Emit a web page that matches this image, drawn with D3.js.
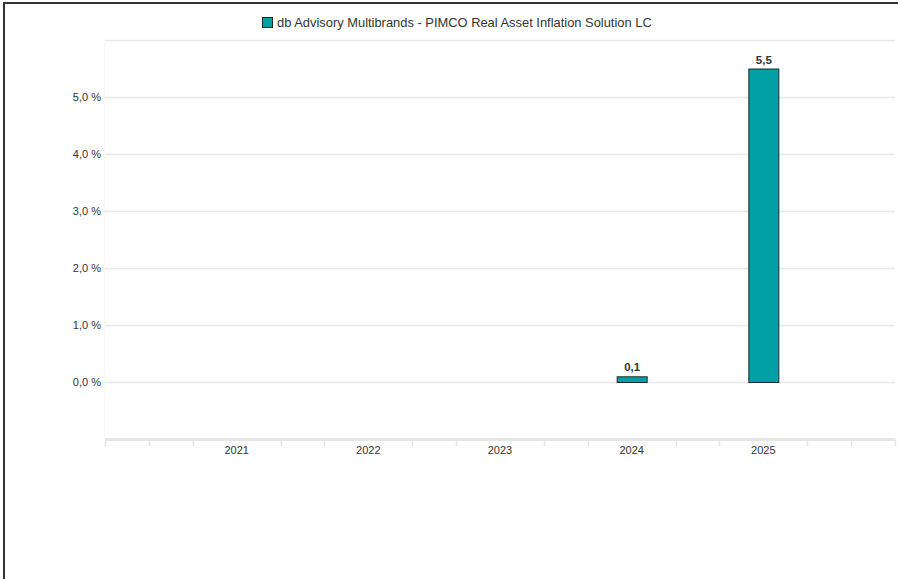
<!DOCTYPE html>
<html><head><meta charset="utf-8">
<script src="https://cdn.jsdelivr.net/npm/d3@7"></script>
<style>
html,body{margin:0;padding:0;background:#fff;}
svg{display:block;font-family:"Liberation Sans",Arial,sans-serif;}
</style></head>
<body>
<svg id="chart" width="898" height="579"></svg>
<script>
const seriesName = "db Advisory Multibrands - PIMCO Real Asset Inflation Solution LC";
const years = [2021, 2022, 2023, 2024, 2025];
const values = [null, null, null, 0.1, 5.5];
const yTicks = [0, 1, 2, 3, 4, 5];
const yGrid = [0, 1, 2, 3, 4, 5, 6];
const barColor = "#00a0a4";

(function () {
const svg = d3.select("#chart");
const W = 898, H = 579;
const mLeft = 105, mRight = 895, mTop = 40, mBottom = 439;

// frame
svg.append("line").attr("x1",4).attr("x2",4).attr("y1",2).attr("y2",H).attr("stroke","#333").attr("stroke-width",2);
svg.append("line").attr("x1",3).attr("x2",W).attr("y1",3).attr("y2",3).attr("stroke","#333").attr("stroke-width",2);

const x = d3.scaleLinear().domain([2020, 2026]).range([mLeft, mRight]);
const y = d3.scaleLinear().domain([-1, 6]).range([mBottom, mTop]);

// gridlines
svg.append("g").selectAll("line").data(yGrid).join("line")
  .attr("x1", mLeft).attr("x2", mRight)
  .attr("y1", d => Math.round(y(d)) + 0.5).attr("y2", d => Math.round(y(d)) + 0.5)
  .attr("stroke", "#e8e8e8").attr("stroke-width", 1.5);

// faint left border of plot
svg.append("line").attr("x1", mLeft - 0.5).attr("x2", mLeft - 0.5).attr("y1", mTop).attr("y2", mBottom)
  .attr("stroke", "#f8f8f8").attr("stroke-width", 1);

// y labels
svg.append("g").selectAll("text").data(yTicks).join("text")
  .attr("x", mLeft - 4).attr("y", d => y(d)).attr("dy", "0.35em")
  .attr("text-anchor", "end").attr("font-size", 11).attr("fill", "#333")
  .text(d => d3.format(".1f")(d).replace(".", ",") + " %");

// x axis line
svg.append("line").attr("x1", mLeft).attr("x2", mRight).attr("y1", mBottom + 0.5).attr("y2", mBottom + 0.5)
  .attr("stroke", "#e6e6e6").attr("stroke-width", 3);

// minor ticks every third of a year (skip labelled years)
const tickVals = d3.range(0, 19).map(k => 2020 + k / 3).filter(v => !years.some(yr => Math.abs(yr - v) < 1e-6));
svg.append("g").selectAll("line").data(tickVals).join("line")
  .attr("x1", d => Math.round(x(d)) + 0.5).attr("x2", d => Math.round(x(d)) + 0.5)
  .attr("y1", mBottom).attr("y2", mBottom + 7)
  .attr("stroke", "#e4e4e4").attr("stroke-width", 1.5);

// x labels
svg.append("g").selectAll("text").data(years).join("text")
  .attr("x", d => x(d)).attr("y", mBottom + 11).attr("dy", "0.35em")
  .attr("text-anchor", "middle").attr("font-size", 11).attr("fill", "#333")
  .text(d => d);

// bars
const barW = 30;
const data = years.map((yr, i) => ({yr, v: values[i]})).filter(d => d.v != null);
svg.append("g").selectAll("rect").data(data).join("rect")
  .attr("x", d => x(d.yr) - barW / 2 + 0.5)
  .attr("y", d => y(Math.max(0, d.v)) + 0.5)
  .attr("width", barW)
  .attr("height", d => Math.abs(y(d.v) - y(0)))
  .attr("fill", barColor).attr("stroke", "#1e2a2a").attr("stroke-width", 1);

// value labels
svg.append("g").selectAll("text").data(data).join("text")
  .attr("x", d => x(d.yr) + 0.5).attr("y", d => y(d.v) - 5)
  .attr("text-anchor", "middle").attr("font-size", 11.5).attr("font-weight", "bold").attr("fill", "#333")
  .text(d => d3.format(".1f")(d.v).replace(".", ","));

// legend
const lg = svg.append("g");
lg.append("rect").attr("x", 262.5).attr("y", 17.5).attr("width", 10).attr("height", 10)
  .attr("fill", barColor).attr("stroke", "#1e2a2a").attr("stroke-width", 1);
lg.append("text").attr("x", 277).attr("y", 22.5).attr("dy", "0.35em")
  .attr("font-size", 12.9).attr("fill", "#333").text(seriesName);
})();
</script>
</body></html>
